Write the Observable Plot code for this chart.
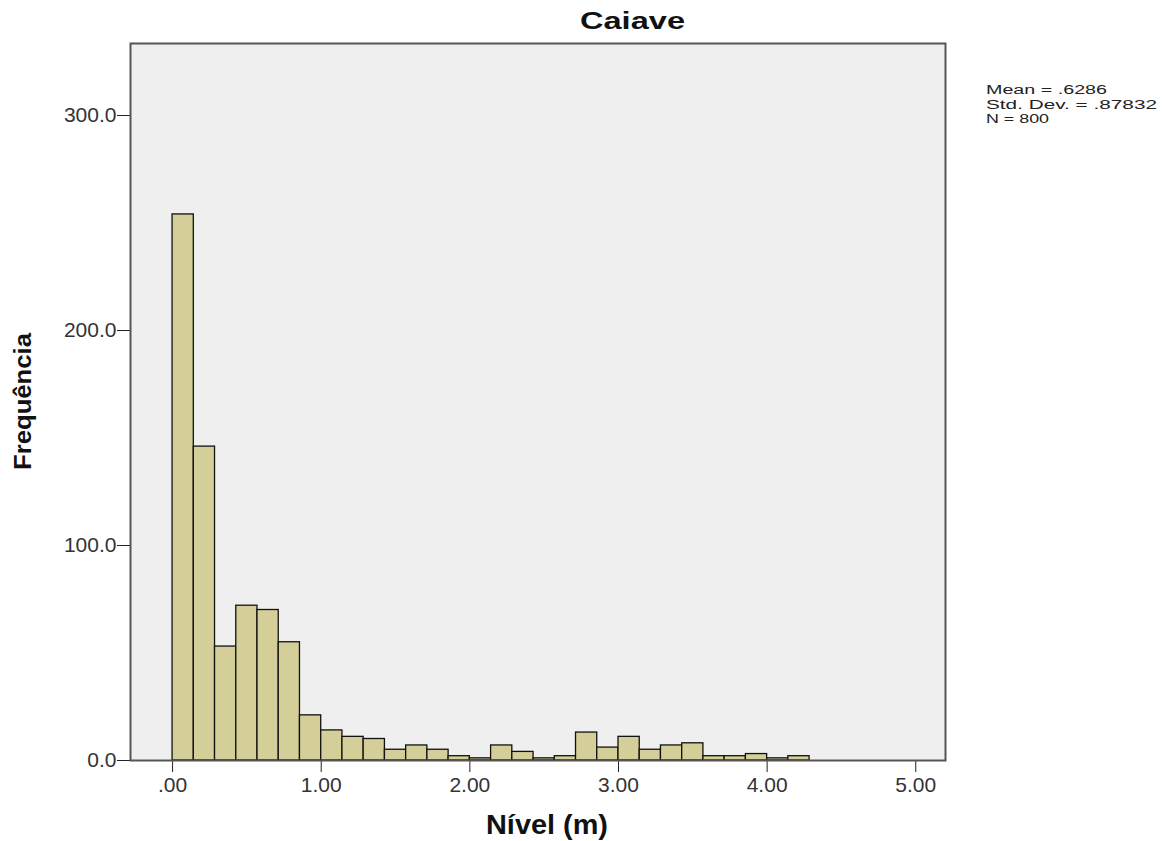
<!DOCTYPE html>
<html><head><meta charset="utf-8">
<script src="https://cdn.jsdelivr.net/npm/d3@7"></script>
<script src="https://cdn.jsdelivr.net/npm/@observablehq/plot@0.6"></script>
<style>
body{margin:0;background:#fff}
#chart svg{display:block}
</style>
</head><body><div id="chart"></div>
<script>
// Histogram bins (Nível, m) and frequencies
const binLower = [0.0000,0.1429,0.2857,0.4286,0.5714,0.7143,0.8571,1.0000,1.1429,1.2857,
                  1.4286,1.5714,1.7143,1.8571,2.0000,2.1429,2.2857,2.4286,2.5714,2.7143,
                  2.8571,3.0000,3.1429,3.2857,3.4286,3.5714,3.7143,3.8571,4.0000,4.1429];
const binUpper = [0.1429,0.2857,0.4286,0.5714,0.7143,0.8571,1.0000,1.1429,1.2857,1.4286,
                  1.5714,1.7143,1.8571,2.0000,2.1429,2.2857,2.4286,2.5714,2.7143,2.8571,
                  3.0000,3.1429,3.2857,3.4286,3.5714,3.7143,3.8571,4.0000,4.1429,4.2857];
const counts   = [254,146,53,72,70,55,21,14,11,10,
                  5,7,5,2,1,7,4,1,2,13,
                  6,11,5,7,8,2,2,3,1,2];
const yTicks = [0,100,200,300];
const xTicks = [0,1,2,3,4,5];
const xTickLabels = [".00","1.00","2.00","3.00","4.00","5.00"];
const titleText = "Caiave";
const xLabel = "Nível (m)";
const yLabel = "Frequência";
const statsLines = ["Mean = .6286","Std. Dev. = .87832","N = 800"];

const bins = counts.map((c,i)=>({x1:binLower[i], x2:binUpper[i], count:c}));

const font = "'Liberation Sans', Arial, sans-serif";
const W = 1162, H = 841;
const plot = Plot.plot({
  width: W, height: H,
  marginLeft: 130, marginRight: 217, marginTop: 43, marginBottom: 81,
  style: {fontFamily: font, fontSize: "21px", color: "#333", background: "#fff"},
  x: {domain: [-0.283, 5.20], label: null},
  y: {domain: [0, 333.5], label: null},
  marks: [
    Plot.frame({fill: "#efefef", stroke: "none"}),
    Plot.rectY(bins, {x1: "x1", x2: "x2", y: "count", fill: "#d4cf98", stroke: "#111", strokeWidth: 1.3, inset: 0}),
    Plot.axisY({ticks: yTicks, tickFormat: d => d.toFixed(1), tickSize: 13, tickPadding: 1,
                stroke: "#222", fill: "#333", fontSize: 21, fontFamily: font, label: null}),
    Plot.axisX({ticks: xTicks, tickFormat: d => xTickLabels[xTicks.indexOf(d)], tickSize: 12, tickPadding: 5,
                stroke: "#222", fill: "#333", fontSize: 21, fontFamily: font, label: null}),
    Plot.frame({stroke: "#555", strokeWidth: 2})
  ]
});
document.getElementById("chart").appendChild(plot);

const svg = d3.select(plot);

svg.append("text").attr("x", 580).attr("y", 29).attr("text-anchor", "start")
  .attr("font-family", font).attr("font-weight", "bold").attr("font-size", 24).attr("fill", "#111")
  .attr("textLength", 105).attr("lengthAdjust", "spacingAndGlyphs").text(titleText);

svg.append("text").attr("x", 486).attr("y", 834).attr("text-anchor", "start")
  .attr("font-family", font).attr("font-weight", "bold").attr("font-size", 27).attr("fill", "#111")
  .attr("textLength", 122).attr("lengthAdjust", "spacingAndGlyphs").text(xLabel);

svg.append("text").attr("transform", "translate(31,470) rotate(-90)").attr("text-anchor", "start")
  .attr("font-family", font).attr("font-weight", "bold").attr("font-size", 23).attr("fill", "#111")
  .attr("textLength", 137).attr("lengthAdjust", "spacingAndGlyphs").text(yLabel);

const statsLen = [121, 171, 63];
statsLines.forEach((s,i) => {
  svg.append("text").attr("x", 986).attr("y", 94 + i*14.5).attr("text-anchor", "start")
    .attr("font-family", font).attr("font-size", 12.5).attr("fill", "#222")
    .attr("textLength", statsLen[i]).attr("lengthAdjust", "spacingAndGlyphs").text(s);
});
</script>
</body></html>
